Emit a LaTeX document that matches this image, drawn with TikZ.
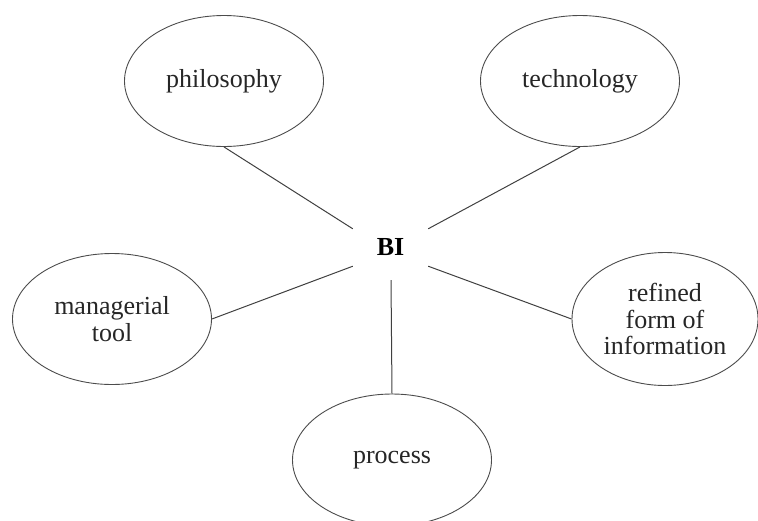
\documentclass[tikz,border=0pt]{standalone}
\usepackage{fontspec}
\setmainfont{Liberation Serif}
\usetikzlibrary{shapes.geometric}
\begin{document}
\begin{tikzpicture}[x=1pt,y=-1pt,
  idea/.style={ellipse,draw=black!70,line width=0.9pt,minimum width=199pt,minimum height=131pt,
    inner sep=0pt,align=center,font=\fontsize{26}{26.5}\selectfont,text=black!85},
  spoke/.style={draw=black!75,line width=1pt}]
  \useasboundingbox (0,0) rectangle (758,520);
  \node[font=\fontsize{26}{26}\selectfont\bfseries,minimum width=75pt,minimum height=37pt,inner sep=0pt] (bi) at (390.5,247.5) {BI};
  \node[idea] (phil) at (224,81) {philosophy};
  \node[idea] (tech) at (580,81) {technology};
  \node[idea] (mgr) at (112,319) {managerial\\tool};
  \node[idea,minimum width=186pt,minimum height=133pt] (ref) at (665,319) {refined\\form of\\information};
  \node[idea,minimum height=132pt] (proc) at (392,460) {process};
  \coordinate (bitail) at (391,280);
  \draw[spoke] (phil.south) -- (bi.north west);
  \draw[spoke] (tech.south) -- (bi.north east);
  \draw[spoke] (mgr.east) -- (bi.south west);
  \draw[spoke] (ref.west) -- (bi.south east);
  \draw[spoke] (proc.north) -- (bitail);
\end{tikzpicture}
\end{document}
